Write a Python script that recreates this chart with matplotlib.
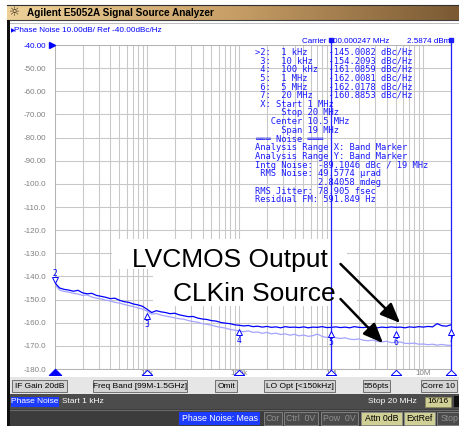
import numpy as np
import matplotlib
matplotlib.use("Agg")
import matplotlib.pyplot as plt
from matplotlib.patches import Rectangle
from matplotlib.path import Path
from matplotlib.ticker import LogLocator, NullFormatter
from matplotlib.transforms import offset_copy, blended_transform_factory

# sweep settings of the analyzer (log sweep)
START_HZ = 1e3
STOP_HZ = 20e6

# phase noise traces (dBc/Hz), log spaced from START to STOP
lvcmos_out = [
    -142.8, -145.0, -145.6, -145.9, -146.4, -146.0, -147.1, -147.5, -147.3, -148.2,
    -148.6, -149.0, -149.6, -149.4, -150.3, -150.9, -151.2, -151.9, -152.3, -152.9,
    -154.2, -155.6, -154.8, -155.3, -155.6, -156.1, -155.9, -156.6, -157.0, -157.4,
    -157.3, -158.0, -158.4, -158.6, -159.1, -159.3, -159.9, -160.2, -160.4, -160.9,
    -161.1, -161.4, -161.2, -161.7, -161.5, -161.9, -161.6, -162.0, -161.8, -162.2,
    -161.7, -162.0, -161.9, -162.1, -161.8, -162.2, -161.9, -162.0, -161.7, -162.1,
    -162.0, -161.8, -162.1, -161.9, -162.2, -161.7, -162.0, -162.1, -161.8, -162.0,
    -162.2, -161.9, -162.1, -161.8, -162.0, -161.9, -162.2, -161.8, -162.0, -161.7,
    -161.9, -161.6, -161.8, -160.4, -161.3, -161.5, -160.9,
]
clkin_src = [
    -143.6, -145.9, -146.5, -146.8, -147.3, -147.6, -148.2, -148.0, -148.9, -149.4,
    -149.7, -150.3, -150.6, -151.2, -151.5, -152.1, -152.6, -153.0, -153.6, -154.1,
    -155.0, -156.3, -156.0, -156.7, -157.1, -157.5, -157.9, -158.3, -158.5, -159.1,
    -159.5, -159.8, -160.4, -160.7, -161.1, -161.6, -162.0, -162.3, -162.9, -163.2,
    -163.6, -163.9, -163.5, -164.2, -164.0, -164.6, -164.2, -164.8, -164.5, -165.1,
    -164.8, -165.4, -165.0, -165.7, -165.3, -165.9, -165.6, -164.9, -165.9, -166.4,
    -166.1, -166.5, -166.8, -166.5, -167.1, -167.3, -167.0, -167.6, -167.8, -167.5,
    -168.1, -168.3, -168.0, -168.6, -168.5, -168.3, -168.9, -169.0, -168.8, -169.3,
    -169.2, -169.5, -169.3, -169.7, -169.4, -169.7, -169.8,
]

# markers 2..7
marker_num = [2, 3, 4, 5, 6, 7]
marker_freq = [1e3, 10e3, 100e3, 1e6, 5e6, 20e6]
marker_val = [-145.0082, -154.2093, -161.0859, -162.0081, -162.0178, -160.8853]
band_freq = [1e6, 20e6]

y_ticks = [-40, -50, -60, -70, -80, -90, -100, -110, -120, -130, -140, -150, -160, -170, -180]
x_ticks = [10e3, 100e3, 1e6, 10e6]
x_tick_labels = ["10k", "100k", "1M", "10M"]

table_lines = [
    ">2:  1 kHz    -145.0082 dBc/Hz",
    " 3:  10 kHz   -154.2093 dBc/Hz",
    " 4:  100 kHz  -161.0859 dBc/Hz",
    " 5:  1 MHz    -162.0081 dBc/Hz",
    " 6:  5 MHz    -162.0178 dBc/Hz",
    " 7:  20 MHz   -160.8853 dBc/Hz",
    " X: Start 1 MHz",
    "     Stop 20 MHz",
    "   Center 10.5 MHz",
    "     Span 19 MHz",
    "\u2550\u2550\u2550 Noise \u2550\u2550\u2550",
    "Analysis Range X: Band Marker",
    "Analysis Range Y: Band Marker",
    "Intg Noise: -89.1046 dBc / 19 MHz",
    " RMS Noise: 49.5774 \u00b5rad",
    "            2.84058 mdeg",
    "RMS Jitter: 78.905 fsec",
    "Residual FM: 591.849 Hz",
]

W, H = 459, 426
BLUE = "#0000ff"
UI = "Liberation Sans"

fig = plt.figure(figsize=(W / 100, H / 100), dpi=100)

# background layer in pixel coordinates (y down)
bg = fig.add_axes([0, 0, 1, 1], zorder=0)
bg.set_autoscale_on(False)
bg.set_xlim(0, W)
bg.set_ylim(H, 0)
bg.axis("off")


def rect(a, x, y, w, h, fc, ec="none", lw=0.0, z=1):
    a.add_patch(Rectangle((x, y), w, h, facecolor=fc, edgecolor=ec, linewidth=lw, zorder=z))


# title bar
c0 = np.array([0.93, 0.82, 0.60])
c1 = np.array([0.78, 0.62, 0.40])
c2 = np.array([0.48, 0.35, 0.20])
t = np.linspace(0, 1, 256)[:, None]
grad = np.where(t < 0.5, c0 + (c1 - c0) * (t / 0.5), c1 + (c2 - c1) * ((t - 0.5) / 0.5))
bg.imshow(grad[None, :, :], extent=(7, W, 20, 5), aspect="auto", zorder=1)
bg.plot([7, W], [5, 5], color="#303030", lw=0.8, zorder=2)
bg.plot([7, W], [20, 20], color="#404040", lw=0.8, zorder=2)
bg.plot([7, W], [22.5, 22.5], color="#b0b0b0", lw=0.6, zorder=2)
bg.text(15, 12.8, "\u263c", fontsize=9, color="#2a1e0a", ha="center", va="center", family="DejaVu Sans")
bg.text(27, 13, "Agilent E5052A Signal Source Analyzer", fontsize=7.2, fontweight="bold",
        color="black", ha="left", va="center", family=UI)
# left window frame
rect(bg, 7, 20, 2.6, H - 20, "#101010", z=2)

bg.text(10.5, 31, "\u25b6", fontsize=4, color=BLUE, ha="left", va="center", family="DejaVu Sans")
bg.text(14.5, 31, "Phase Noise 10.00dB/ Ref -40.00dBc/Hz", fontsize=5.9, color=BLUE,
        ha="left", va="center", family=UI)

# status bars
rect(bg, 9.6, 377, W - 9.6, 17, "#e6e6e6")
buttons = [("IF Gain 20dB", 12, 67), ("Freq Band [99M-1.5GHz]", 93, 187), ("Omit", 215, 237),
           ("LO Opt [<150kHz]", 264, 335), ("556pts", 363, 390), ("Corre 10", 421, 457)]
for lab, x0, x1 in buttons:
    rect(bg, x0, 380, x1 - x0, 12, "#d4d4d4", ec="#707070", lw=0.7, z=2)
    bg.text((x0 + x1) / 2, 386.3, lab, fontsize=6, color="black", ha="center", va="center", family=UI, zorder=3)

rect(bg, 9.6, 394, W - 9.6, 15, "#4c4c4c")
rect(bg, 11, 396.5, 48, 10.5, "#1e3cff", z=2)
bg.text(35, 401.8, "Phase Noise", fontsize=6, color="white", ha="center", va="center", family=UI, zorder=3)
bg.text(62, 401.8, "Start 1 kHz", fontsize=6, color="white", ha="left", va="center", family=UI, zorder=3)
bg.text(368, 401.8, "Stop 20 MHz", fontsize=6, color="white", ha="left", va="center", family=UI, zorder=3)
rect(bg, 425, 396.5, 26, 10.5, "#cfcf96", ec="#8a8a60", lw=0.6, z=2)
bg.text(438, 401.8, "16/16", fontsize=6, color="black", ha="center", va="center", family=UI, zorder=3)
rect(bg, 454, 396, 6, 11, "#101010", z=2)

rect(bg, 9.6, 409, W - 9.6, 17, "#3c3c3c")
bg.plot([9.6, W], [409.5, 409.5], color="#6a6a6a", lw=0.8, zorder=2)
rect(bg, 179, 412, 81, 13, "#1e3cff", z=2)
bg.text(219.5, 418.5, "Phase Noise: Meas", fontsize=6.3, color="white", ha="center", va="center", family=UI, zorder=3)
soft = [("Cor", 264, 282, "#4a4a4a", "#909090"), ("Ctrl  0V", 284, 318, "#4a4a4a", "#909090"),
        ("Pow  0V", 321, 358, "#4a4a4a", "#909090"), ("Attn 0dB", 361, 402, "#cfcf96", "black"),
        ("ExtRef", 404, 435, "#cfcf96", "black"), ("Stop", 437, 462, "#4a4a4a", "#909090")]
for lab, x0, x1, fc, tc in soft:
    rect(bg, x0, 412, x1 - x0, 13, fc, ec="#8a8a8a", lw=0.6, z=2)
    bg.text((x0 + x1) / 2, 418.5, lab, fontsize=6.3, color=tc, ha="center", va="center", family=UI, zorder=3)

# plot area
ax = fig.add_axes([55 / W, 1 - 369 / H, (451 - 55) / W, (369 - 45) / H], zorder=1)
ax.set_xscale("log")
ax.set_xlim(START_HZ, STOP_HZ)
ax.set_ylim(y_ticks[-1], y_ticks[0])
ax.set_yticks(y_ticks)
ax.set_yticklabels([f"{v:.2f}" if v > -100 else f"{v:.1f}" for v in y_ticks])
for i, lab in enumerate(ax.get_yticklabels()):
    lab.set_color(BLUE if i == 0 else "#808080")
    lab.set_family(UI)
    lab.set_fontsize(5.8)
ax.set_xticks(x_ticks)
ax.set_xticklabels(x_tick_labels, fontsize=5.8, color="#808080", family=UI)
ax.xaxis.set_minor_locator(LogLocator(base=10, subs=np.arange(2, 10), numticks=30))
ax.xaxis.set_minor_formatter(NullFormatter())
ax.tick_params(which="both", length=0)
ax.tick_params(axis="y", pad=6.4)
ax.tick_params(axis="x", pad=0.4)
ax.grid(True, which="both", color="#c8c8c8", lw=0.75)
ax.set_axisbelow(True)
for s in ax.spines.values():
    s.set_color("#b4b4b4")
    s.set_linewidth(0.75)

# white boxes behind the annotation text
for x, y, w, h in [(112, 239, 235, 30), (153, 269, 204, 37)]:
    p = Rectangle((x, y), w, h, facecolor="white", edgecolor="none", transform=bg.transData, zorder=1.5)
    ax.add_patch(p)

freqs = np.geomspace(START_HZ, STOP_HZ, len(lvcmos_out))
ax.plot(freqs, clkin_src, color="#a4a4ff", lw=0.9, zorder=2)
ax.plot(freqs, lvcmos_out, color=BLUE, lw=0.9, zorder=3)

# band markers
top_tr = blended_transform_factory(ax.transData, ax.transAxes)
for fb in band_freq:
    ax.plot([fb, fb], [0, 1 + 5 / 324], transform=top_tr, color="#2020ff", lw=0.9, clip_on=False, zorder=4)
    ax.plot([fb], [1 + 5 / 324], transform=top_tr, marker="s", ms=2.5, color="#2020ff", clip_on=False, zorder=4)

# marker symbols on the trace
for n, mf, mv in zip(marker_num, marker_freq, marker_val):
    if n == 2:
        tri, dy, ly = "v", 8, 15
    else:
        tri, dy, ly = "^", -7, -15
    ax.plot([mf], [mv], transform=offset_copy(ax.transData, fig=fig, x=0, y=dy, units="dots"),
            marker=tri, ms=4.5, mfc="white", mec=BLUE, mew=0.7, clip_on=False, zorder=5)
    ax.text(mf, mv, str(n), transform=offset_copy(ax.transData, fig=fig, x=0, y=ly, units="dots"),
            fontsize=5.5, color=BLUE, ha="center", va="center", family="DejaVu Sans", zorder=5)

# marker indicators under the x axis
flat_tri = Path([(-1, 0), (1, 0), (0, 1), (-1, 0)], [Path.MOVETO, Path.LINETO, Path.LINETO, Path.CLOSEPOLY])
for n, mf in zip(marker_num, marker_freq):
    filled = n == 2
    ax.plot([mf], [y_ticks[-1]], transform=offset_copy(ax.transData, fig=fig, x=0, y=-5.5, units="dots"),
            marker=flat_tri, ms=9 if filled else 7.5, mfc=BLUE if filled else "white", mec=BLUE, mew=0.7,
            clip_on=False, zorder=5)

# reference level pointer
ax.plot([START_HZ], [y_ticks[0]], transform=offset_copy(ax.transData, fig=fig, x=-3.5, y=0, units="dots"),
        marker=">", ms=5, color=BLUE, clip_on=False, zorder=5)

# arrows
ax.annotate("", xy=(5.6e6, -160.1), xytext=(340.5, 264), textcoords=bg.transData,
            arrowprops=dict(arrowstyle="-|>,head_length=0.6,head_width=0.25", mutation_scale=20,
                            color="black", lw=1.8, shrinkA=0, shrinkB=0), zorder=6)
ax.annotate("", xy=(3.65e6, -168.8), xytext=(340.5, 299), textcoords=bg.transData,
            arrowprops=dict(arrowstyle="-|>,head_length=0.6,head_width=0.25", mutation_scale=20,
                            color="black", lw=1.8, shrinkA=0, shrinkB=0), zorder=6)

# overlay texts
top = fig.add_axes([0, 0, 1, 1], zorder=3)
top.set_xlim(0, W)
top.set_ylim(H, 0)
top.axis("off")
top.patch.set_alpha(0)

top.text(132, 266.7, "LVCMOS Output", fontsize=19, color="black", ha="left", va="baseline", family=UI)
top.text(173, 301, "CLKin Source", fontsize=19, color="black", ha="left", va="baseline", family=UI)

top.text(301.7, 41.5, "Carrier 100.000247 MHz", fontsize=5.8, color=BLUE, ha="left", va="center", family=UI)
top.text(407, 41.5, "2.5874 dBm", fontsize=5.8, color=BLUE, ha="left", va="center", family=UI)
for i, line in enumerate(table_lines):
    top.text(255, 52 + i * 8.7, line, fontsize=6.3, color="#1a1aff", ha="left", va="center",
             family="DejaVu Sans Mono")

fig.savefig("out.png", dpi=100)
